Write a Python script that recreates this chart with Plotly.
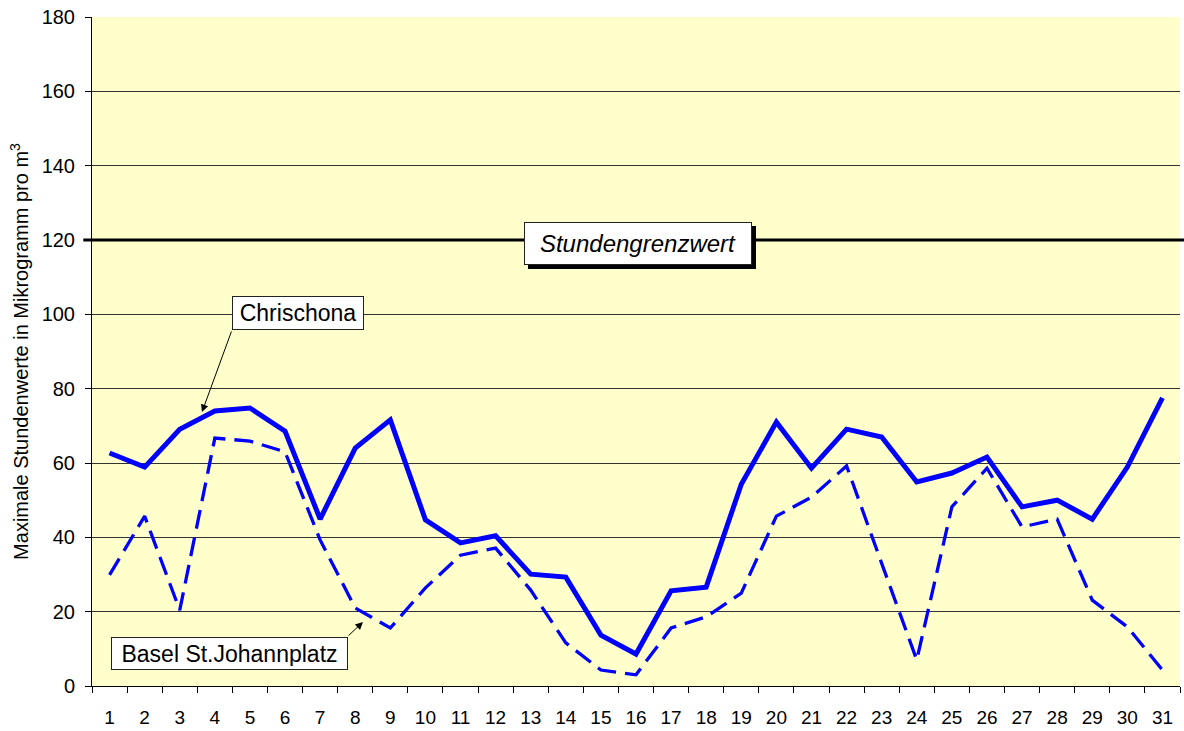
import plotly.graph_objects as go

days = list(range(1, 32))
chrischona = [62.7, 58.9, 69.1, 74.0, 74.8, 68.6, 44.9, 64.0, 71.6, 44.7,
              38.5, 40.4, 30.1, 29.3, 13.7, 8.6, 25.6, 26.6, 54.3, 71.0,
              58.6, 69.1, 67.0, 54.9, 57.3, 61.6, 48.2, 50.0, 44.9, 58.9, 77.5]
basel = [29.9, 45.7, 20.4, 66.7, 65.9, 63.0, 39.3, 21.0, 15.6, 26.4,
         35.2, 37.1, 25.8, 11.6, 4.3, 3.0, 15.6, 18.6, 25.0, 45.7,
         50.8, 59.2, 33.0, 7.0, 48.2, 58.6, 42.8, 44.9, 23.1, 15.9, 4.3]
grenzwert = 120
y_ticks = [0, 20, 40, 60, 80, 100, 120, 140, 160, 180]

FONT = "Liberation Sans, Arial, sans-serif"

fig = go.Figure()
fig.add_trace(go.Scatter(x=days, y=basel, mode="lines", name="Basel St.Johannplatz",
                         line=dict(color="#0000FF", width=3.3, dash="19px,9px")))
fig.add_trace(go.Scatter(x=days, y=chrischona, mode="lines", name="Chrischona",
                         line=dict(color="#0000FF", width=5)))

# limit line
fig.add_shape(type="line", xref="paper", yref="y", x0=-0.008, x1=1.01, y0=grenzwert, y1=grenzwert,
              line=dict(color="black", width=3), layer="above")
# shadow of label box
fig.add_shape(type="rect", xref="x", yref="y", x0=12.923, x1=19.419, y0=112.2, y1=123.77,
              line=dict(width=0), fillcolor="black", layer="above")

annotations = [
    dict(x=16.057, y=119.06, xref="x", yref="y", text="<i>Stundengrenzwert</i>", showarrow=False,
         font=dict(family=FONT, size=24, color="black"), bgcolor="white", bordercolor="#222",
         borderwidth=1, borderpad=3, width=220, height=35),
    dict(x=3.634, y=73.7, xref="x", yref="y", ax=4.489, ay=95.8, axref="x", ayref="y",
         text="", showarrow=True, arrowhead=2, arrowsize=1.5, arrowwidth=1, arrowcolor="black"),
    dict(x=8.22, y=17.2, xref="x", yref="y", ax=7.766, ay=13.18, axref="x", ayref="y",
         text="", showarrow=True, arrowhead=2, arrowsize=1.5, arrowwidth=1, arrowcolor="black"),
    dict(x=6.367, y=100.4, xref="x", yref="y", text="Chrischona", showarrow=False,
         font=dict(family=FONT, size=23, color="black"), bgcolor="white", bordercolor="#222",
         borderwidth=1, borderpad=3, width=124, height=26),
    dict(x=4.418, y=8.74, xref="x", yref="y", text="Basel St.Johannplatz", showarrow=False,
         font=dict(family=FONT, size=23, color="black"), bgcolor="white", bordercolor="#222",
         borderwidth=1, borderpad=3, width=229, height=25),
]

fig.update_layout(
    width=1184, height=731,
    margin=dict(l=92, r=4, t=17, b=45),
    paper_bgcolor="white", plot_bgcolor="#FFFFCC",
    showlegend=False,
    font=dict(family=FONT, size=20, color="black"),
    annotations=annotations,
    xaxis=dict(range=[0.5, 31.5], tickmode="array", tickvals=days, ticktext=[str(d) for d in days],
               ticks="", showgrid=False, zeroline=False, showline=True, linecolor="black", linewidth=1,
               tickfont=dict(size=19), ticklabelstandoff=14,
               minor=dict(tickmode="linear", tick0=0.5, dtick=1, ticks="outside", ticklen=6,
                          tickcolor="black", showgrid=False)),
    yaxis=dict(range=[0, 180], tickmode="array", tickvals=y_ticks, ticks="outside", ticklen=6,
               tickcolor="black", showgrid=True, gridcolor="#333", gridwidth=1, zeroline=False,
               showline=True, linecolor="black", linewidth=1, tickfont=dict(size=20),
               ticklabelstandoff=6,
               title=dict(text="Maximale Stundenwerte in Mikrogramm pro m<sup>3</sup>",
                          font=dict(size=20), standoff=7)),
)

fig.write_html("out.html", config={"displayModeBar": False},
               post_script="document.body.style.margin='0';document.body.style.overflow='hidden';")
